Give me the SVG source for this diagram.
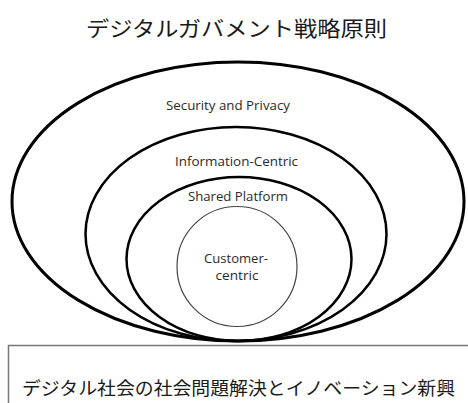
<svg xmlns="http://www.w3.org/2000/svg" width="468" height="403" viewBox="0 0 468 403">
<style>
.ring{fill:none;stroke:#000}
.lbl{font-family:"Open Sans","Noto Sans","Liberation Sans",sans-serif;font-size:12.5px;fill:#2a2a2a;text-anchor:middle}
.jp{font-family:"Noto Sans CJK JP",sans-serif;fill:#1a1a1a;text-anchor:middle}
</style>
<rect width="468" height="403" fill="#fff"/>
<text class="jp" x="236.5" y="36" font-size="21" textLength="301" lengthAdjust="spacingAndGlyphs">デジタルガバメント戦略原則</text>
<g id="security">
<ellipse class="ring" cx="238" cy="201.5" rx="226" ry="139.5" stroke-width="3"/>
<text class="lbl" x="228" y="110" textLength="124" lengthAdjust="spacingAndGlyphs">Security and Privacy</text>
</g>
<g id="information">
<ellipse class="ring" cx="236" cy="234" rx="150.5" ry="107" stroke-width="2.5"/>
<text class="lbl" x="236.5" y="166" textLength="123" lengthAdjust="spacingAndGlyphs">Information-Centric</text>
</g>
<g id="shared">
<ellipse class="ring" cx="239" cy="259" rx="112.5" ry="82" stroke-width="2.5"/>
<text class="lbl" x="238" y="201" textLength="100" lengthAdjust="spacingAndGlyphs">Shared Platform</text>
</g>
<g id="customer">
<circle cx="237" cy="266.5" r="60" fill="none" stroke="#444" stroke-width="1.2"/>
<text class="lbl" x="236" y="263" textLength="64" lengthAdjust="spacingAndGlyphs">Customer-</text>
<text class="lbl" x="237" y="280" textLength="43" lengthAdjust="spacingAndGlyphs">centric</text>
</g>
<g id="connectors"></g>
<g id="foundation">
<rect x="8.5" y="345.5" width="470" height="70" fill="none" stroke="#777" stroke-width="1.5"/>
<text class="jp" x="238.5" y="395" font-size="18" textLength="433" lengthAdjust="spacingAndGlyphs">デジタル社会の社会問題解決とイノベーション新興</text>
</g>
</svg>
